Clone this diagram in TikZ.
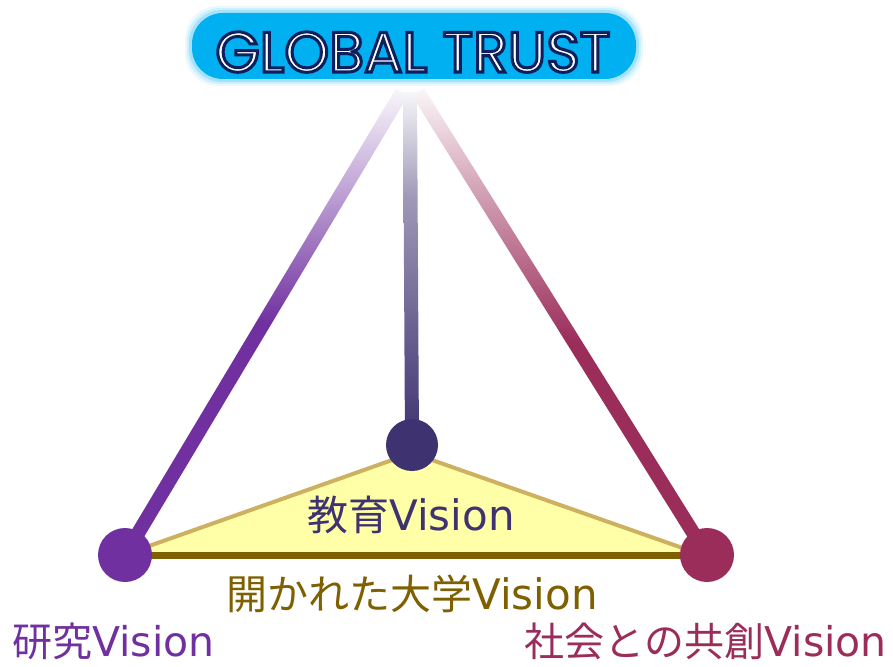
\documentclass[tikz,border=0pt]{standalone}
\usepackage{fontspec}
\newfontfamily\jp{Noto Sans CJK JP}
\newfontfamily\lat{DejaVu Sans}
\newfontfamily\gtfont{Poppins}
\usetikzlibrary{calc}
\definecolor{purp}{HTML}{7030A0}
\definecolor{indi}{HTML}{3F3270}
\definecolor{crim}{HTML}{9B2D5A}
\definecolor{gold}{HTML}{7F6000}
\definecolor{goldlt}{HTML}{CDB060}
\definecolor{sky}{HTML}{00B0F0}
\definecolor{lemon}{HTML}{FFFFA8}
\pgfdeclareverticalshading{purpfade}{100bp}{color(0bp)=(purp); color(25bp)=(purp); color(50bp)=(purp); color(64bp)=(purp!45!white); color(75bp)=(purp!4!white); color(100bp)=(white)}
\pgfdeclareverticalshading{indifade}{100bp}{color(0bp)=(indi); color(25bp)=(indi); color(36bp)=(indi!85!white); color(60bp)=(indi!50!white); color(75bp)=(indi!4!white); color(100bp)=(white)}
\pgfdeclareverticalshading{crimfade}{100bp}{color(0bp)=(crim); color(25bp)=(crim); color(48bp)=(crim); color(64bp)=(crim!45!white); color(75bp)=(crim!4!white); color(100bp)=(white)}
\newcommand{\vis}{{\lat\fontsize{42}{48}\selectfont Vision}}
\newcommand{\visb}{{\lat\fontsize{41}{46}\selectfont Vision}}
\tikzset{
  dot/.style={circle, inner sep=0pt, minimum size=54pt},
  lbl/.style={font=\jp\fontsize{41}{48}\selectfont, inner sep=0pt},
  lblb/.style={font=\jp\fontsize{40}{46}\selectfont, inner sep=0pt},
}
\begin{document}
\begin{tikzpicture}[x=1pt,y=-1pt]
\useasboundingbox (0,0) rectangle (893,666);
% coordinates
\coordinate (apL) at (402,92);
\coordinate (apC) at (410,92);
\coordinate (apR) at (418,92);
\coordinate (res) at (125,555);
\coordinate (edu) at (412,445);
\coordinate (soc) at (707,555);
% GLOBAL TRUST box with soft glow
\foreach \g/\o in {7/0.08,5/0.12,3/0.2}
  \fill[sky, opacity=\o, rounded corners=33pt] (192-\g,13-\g) rectangle (636+\g,79+\g);
\node[rounded corners=31pt, fill=sky, minimum width=444pt, minimum height=66pt] (gt) at (414,46) {};
% connectors (shaded thick lines)
\path[shading=purpfade] ($(apL)!7pt!90:(res)$) -- ($(apL)!7pt!-90:(res)$) -- ($(res)!7pt!90:(apL)$) -- ($(res)!7pt!-90:(apL)$) -- cycle;
\path[shading=crimfade] ($(apR)!7pt!90:(soc)$) -- ($(apR)!7pt!-90:(soc)$) -- ($(soc)!7pt!90:(apR)$) -- ($(soc)!7pt!-90:(apR)$) -- cycle;
\path[shading=indifade] ($(apC)!7pt!90:(edu)$) -- ($(apC)!7pt!-90:(edu)$) -- ($(edu)!7pt!90:(apC)$) -- ($(edu)!7pt!-90:(apC)$) -- cycle;
% triangle
\coordinate (tL) at (132,552);
\coordinate (tT) at (412,453);
\coordinate (tR) at (694,552);
\fill[lemon] (tL) -- (tT) -- (tR) -- cycle;
\draw[goldlt, line width=4pt, line join=round] (tL) -- (tT) -- (tR);
\draw[gold, line width=7pt] (res) -- (soc);
% dots
\node[dot, fill=purp] (resdot) at (res) {};
\node[dot, fill=crim] (socdot) at (soc) {};
\node[dot, fill=indi, minimum size=52pt] (edudot) at (edu) {};
% labels
\node[lbl, anchor=base, text=indi] (edulbl) at (411,530) {教育\vis};
\node[lbl, anchor=base, text=gold] (opnlbl) at (412,609) {開かれた大学\vis};
\node[lblb, anchor=base west, text=purp] (reslbl) at (12,656) {研究\visb};
\node[lblb, anchor=base east, text=crim] (soclbl) at (887,656) {社会との共創\visb};
% GLOBAL TRUST text: white fill with navy outline (text render mode 2)
\node[anchor=base, text=white, inner sep=0pt, font=\gtfont\fontsize{57}{60}\selectfont] (gttext) at (413,72)
  {\special{pdf:literal direct 2 Tr 3 w 0.05 0.12 0.36 RG}GLOBAL TRUST\special{pdf:literal direct 0 Tr 1 w}};
\end{tikzpicture}
\end{document}
